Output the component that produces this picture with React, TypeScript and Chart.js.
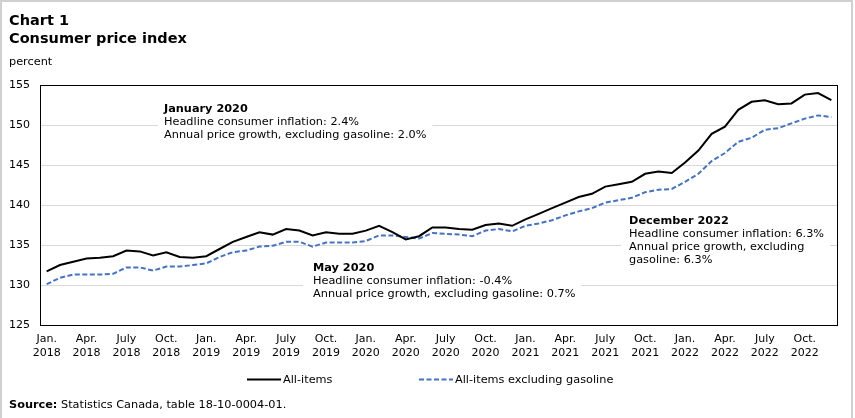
import React, { useEffect, useRef } from "react";
import { Chart, registerables } from "chart.js";

Chart.register(...registerables);

const years = [2018, 2019, 2020, 2021, 2022];
const monthNames = ["Jan.", "Feb.", "Mar.", "Apr.", "May", "June", "July", "Aug.", "Sept.", "Oct.", "Nov.", "Dec."];
const categories: string[] = [];
years.forEach((y) => monthNames.forEach((m) => categories.push(m + " " + y)));

const allItems = [
  131.7, 132.5, 132.9, 133.3, 133.4, 133.6, 134.3, 134.2, 133.7, 134.1, 133.5, 133.4,
  133.6, 134.5, 135.4, 136.0, 136.6, 136.3, 137.0, 136.8, 136.2, 136.6, 136.4, 136.4,
  136.8, 137.4, 136.6, 135.7, 136.1, 137.2, 137.2, 137.0, 136.9, 137.5, 137.7, 137.4,
  138.2, 138.9, 139.6, 140.3, 141.0, 141.4, 142.3, 142.6, 142.9, 143.9, 144.2, 144.0,
  145.3, 146.8, 148.9, 149.8, 151.9, 152.9, 153.1, 152.6, 152.7, 153.8, 154.0, 153.1,
];

const exclGasoline = [
  130.1, 130.9, 131.3, 131.3, 131.3, 131.4, 132.2, 132.2, 131.8, 132.3, 132.3, 132.5,
  132.7, 133.5, 134.1, 134.3, 134.8, 134.9, 135.4, 135.4, 134.8, 135.3, 135.3, 135.3,
  135.5, 136.2, 136.2, 136.0, 135.8, 136.5, 136.4, 136.3, 136.1, 136.8, 137.0, 136.7,
  137.4, 137.7, 138.1, 138.7, 139.2, 139.6, 140.3, 140.6, 140.9, 141.6, 141.9, 142.0,
  142.9, 143.9, 145.5, 146.5, 147.9, 148.4, 149.4, 149.6, 150.2, 150.8, 151.2, 151.0,
];

const seriesNames = ["All-items", "All-items excluding gasoline"];
const titleLines = ["Chart 1", "Consumer price index"];
const yUnit = "percent";
const yMin = 125;
const yMax = 155;
const yStep = 5;
const sourceBold = "Source:";
const sourceText = " Statistics Canada, table 18-10-0004-01.";

const notes = [
  { title: "January 2020", lines: ["Headline consumer inflation: 2.4%", "Annual price growth, excluding gasoline: 2.0%"] },
  { title: "May 2020", lines: ["Headline consumer inflation: -0.4%", "Annual price growth, excluding gasoline: 0.7%"] },
  { title: "December 2022", lines: ["Headline consumer inflation: 6.3%", "Annual price growth, excluding", "gasoline: 6.3%"] },
];
// layout only: text anchor (x, baseline of first line) and box padding
const notePos = [
  { x: 164, y: 112, padL: 6 },
  { x: 313, y: 271, padL: 10 },
  { x: 629, y: 223.5, padL: 8 },
];

const FONT = "'DejaVu Sans', Verdana, sans-serif";
const TXT = "11.3px " + FONT;
const TXTB = "bold 11.3px " + FONT;

const decorPlugin = {
  id: "decor",
  beforeDraw(chart: any) {
    const ctx = chart.ctx;
    ctx.save();
    ctx.fillStyle = "#fff";
    ctx.fillRect(0, 0, chart.width, chart.height);
    ctx.restore();
  },
  beforeDatasetsDraw(chart: any) {
    const ctx = chart.ctx;
    ctx.save();
    notes.forEach((n, i) => {
      const p = notePos[i];
      ctx.font = TXTB;
      let w = ctx.measureText(n.title).width;
      ctx.font = TXT;
      n.lines.forEach((l) => (w = Math.max(w, ctx.measureText(l).width)));
      const h = 13 * (n.lines.length + 1);
      ctx.fillStyle = "#fff";
      ctx.fillRect(p.x - p.padL, p.y - 13, w + p.padL + 6, h + 6);
      ctx.fillStyle = "#000";
      ctx.textBaseline = "alphabetic";
      ctx.textAlign = "left";
      ctx.font = TXTB;
      ctx.fillText(n.title, p.x, p.y);
      ctx.font = TXT;
      n.lines.forEach((l, j) => ctx.fillText(l, p.x, p.y + 13 * (j + 1)));
    });
    ctx.restore();
  },
  afterDraw(chart: any) {
    const ctx = chart.ctx;
    const a = chart.chartArea;
    ctx.save();
    // plot frame
    ctx.strokeStyle = "#000";
    ctx.lineWidth = 1;
    ctx.strokeRect(Math.round(a.left) + 0.5, Math.round(a.top) + 0.5, Math.round(a.right - a.left) - 1, Math.round(a.bottom - a.top));
    // outer frame
    ctx.strokeStyle = "#d0d0d0";
    ctx.lineWidth = 2;
    ctx.beginPath();
    ctx.moveTo(1, 418);
    ctx.lineTo(1, 1);
    ctx.lineTo(852, 1);
    ctx.lineTo(852, 418);
    ctx.stroke();
    // titles
    ctx.fillStyle = "#000";
    ctx.textAlign = "left";
    ctx.textBaseline = "alphabetic";
    ctx.font = "bold 14.5px " + FONT;
    ctx.fillText(titleLines[0], 9, 25);
    ctx.fillText(titleLines[1], 9, 43);
    ctx.font = TXT;
    ctx.fillText(yUnit, 9, 65);
    // legend
    const ds = chart.data.datasets;
    const legendPos = [{ x: 247, tx: 283 }, { x: 419, tx: 455 }];
    ds.forEach((d: any, i: number) => {
      const lp = legendPos[i];
      ctx.strokeStyle = d.borderColor;
      ctx.lineWidth = d.borderWidth;
      ctx.setLineDash(d.borderDash || []);
      ctx.beginPath();
      ctx.moveTo(lp.x, 379.5);
      ctx.lineTo(lp.x + 34, 379.5);
      ctx.stroke();
      ctx.setLineDash([]);
      ctx.fillStyle = "#000";
      ctx.font = TXT;
      ctx.textBaseline = "middle";
      ctx.fillText(d.label, lp.tx, 380);
    });
    // source
    ctx.textBaseline = "alphabetic";
    ctx.font = TXTB;
    ctx.fillText(sourceBold, 9, 408);
    const sw = ctx.measureText(sourceBold).width;
    ctx.font = TXT;
    ctx.fillText(sourceText, 9 + sw, 408);
    ctx.restore();
  },
};

export default function App() {
  const ref = useRef<HTMLCanvasElement>(null);
  useEffect(() => {
    if (!ref.current) return;
    const chart = new Chart(ref.current, {
      type: "line",
      data: {
        labels: categories,
        datasets: [
          {
            label: seriesNames[0],
            data: allItems,
            borderColor: "#000000",
            backgroundColor: "#000000",
            borderWidth: 2,
            pointRadius: 0,
            tension: 0,
            fill: false,
          },
          {
            label: seriesNames[1],
            data: exclGasoline,
            borderColor: "#4472C4",
            backgroundColor: "#4472C4",
            borderWidth: 2,
            borderDash: [5, 2.5],
            pointRadius: 0,
            tension: 0,
            fill: false,
          },
        ],
      },
      options: {
        animation: false,
        responsive: false,
        events: [],
        layout: { padding: { left: 9, right: 17, top: 85, bottom: 58 } },
        plugins: { legend: { display: false }, tooltip: { enabled: false }, title: { display: false } },
        scales: {
          x: {
            type: "category",
            offset: true,
            grid: { display: false, drawTicks: false },
            border: { display: false },
            afterFit: (s: any) => {
              s.height = 35;
            },
            ticks: {
              autoSkip: false,
              maxRotation: 0,
              minRotation: 0,
              padding: 8,
              color: "#000",
              font: { family: FONT, size: 11, lineHeight: 1.2 },
              callback: (_v: any, i: number) => {
                if (i % 3 !== 0) return "";
                return [monthNames[i % 12], String(years[Math.floor(i / 12)])];
              },
            },
          },
          y: {
            min: yMin,
            max: yMax,
            grid: { color: "#d9d9d9", lineWidth: 1, drawTicks: false },
            border: { display: false },
            afterFit: (s: any) => {
              s.width = 31;
            },
            ticks: {
              stepSize: yStep,
              crossAlign: "far",
              padding: 0,
              color: "#000",
              font: { family: FONT, size: 11 },
            },
          },
        },
      },
      plugins: [decorPlugin],
    });
    return () => chart.destroy();
  }, []);
  return (
    <div style={{ position: "fixed", left: 0, top: 0, width: 855, height: 418 }}>
      <canvas ref={ref} width={855} height={418} style={{ display: "block" }} />
    </div>
  );
}
